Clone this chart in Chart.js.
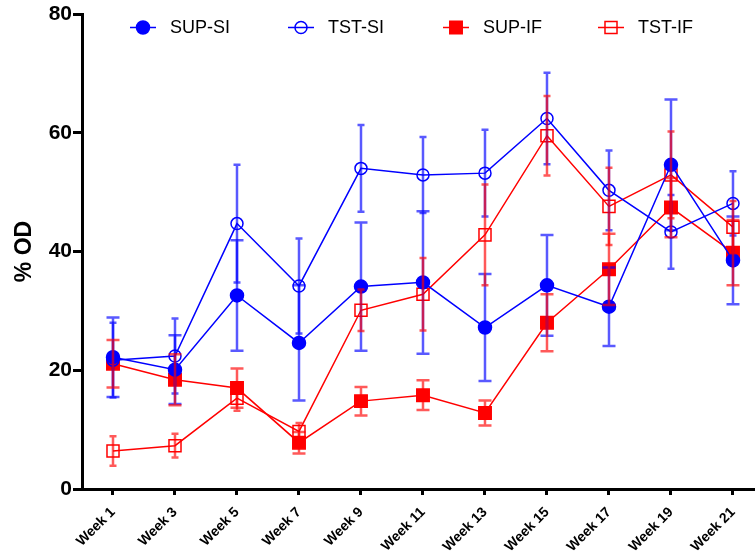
<!DOCTYPE html>
<html>
<head>
<meta charset="utf-8">
<script src="https://cdn.jsdelivr.net/npm/chart.js@4.4.1/dist/chart.umd.min.js"></script>
<style>
  html, body { margin: 0; padding: 0; background: #fff; }
  #wrap { width: 755px; height: 555px; }
</style>
</head>
<body>
<div id="wrap"><canvas id="chart"></canvas></div>
<script>
const weeks = ['Week 1', 'Week 3', 'Week 5', 'Week 7', 'Week 9', 'Week 11',
               'Week 13', 'Week 15', 'Week 17', 'Week 19', 'Week 21'];

// mean and error (SD) per week
const supSi    = [22.2, 20.1, 32.6, 24.6, 34.1, 34.8, 27.2, 34.3, 30.7, 54.6, 38.5];
const supSiErr = [6.7, 5.8, 9.3, 9.7, 10.8, 12.0, 9.0, 8.5, 6.6, 11.0, 7.4];
const tstSi    = [21.7, 22.4, 44.7, 34.2, 54.0, 52.9, 53.2, 62.4, 50.3, 43.3, 48.1];
const tstSiErr = [6.3, 6.3, 9.9, 8.0, 7.3, 6.4, 7.3, 7.7, 6.7, 6.2, 5.4];
const supIf    = [21.1, 18.4, 17.0, 7.8, 14.8, 15.8, 12.8, 28.0, 37.0, 47.4, 39.8];
const supIfErr = [4.0, 4.3, 3.3, 1.8, 2.4, 2.5, 2.1, 4.8, 6.0, 5.0, 5.5];
const tstIf    = [6.4, 7.3, 15.3, 9.7, 30.1, 32.8, 42.8, 59.5, 47.6, 52.9, 44.1];
const tstIfErr = [2.5, 2.0, 2.1, 1.4, 3.5, 6.1, 8.5, 6.7, 6.5, 7.3, 4.4];

const yTicks = [0, 20, 40, 60, 80];

const FONT = '"Liberation Sans", Arial, Helvetica, sans-serif';
const BLUE = '#0000ff';
const RED = '#ff0000';

const toPoints = (vals) => vals.map((v, i) => ({ x: i, y: v }));

function series(label, vals, errs, color, style, filled, radius, capWidth) {
    return {
        label,
        data: toPoints(vals),
        errors: errs,
        capWidth,
        borderColor: color,
        borderWidth: 1.5,
        pointStyle: style,
        pointRadius: radius,
        pointBorderWidth: 1.5,
        pointBorderColor: color,
        pointBackgroundColor: filled ? color : 'rgba(0,0,0,0)',
        fill: false,
        tension: 0,
    };
}

// vertical error bars, drawn over the lines with some transparency
const errorBars = {
    id: 'errorBars',
    afterDatasetsDraw(chart) {
        const { ctx, scales: { y } } = chart;
        ctx.save();
        ctx.globalAlpha = 0.65;
        ctx.lineWidth = 2.5;
        chart.data.datasets.forEach((ds, i) => {
            const meta = chart.getDatasetMeta(i);
            ctx.strokeStyle = ds.borderColor;
            meta.data.forEach((pt, j) => {
                const v = ds.data[j].y;
                const e = ds.errors[j];
                const top = y.getPixelForValue(v + e);
                const bot = y.getPixelForValue(v - e);
                const half = ds.capWidth / 2;
                ctx.beginPath();
                ctx.moveTo(pt.x, top);
                ctx.lineTo(pt.x, bot);
                ctx.moveTo(pt.x - half, top);
                ctx.lineTo(pt.x + half, top);
                ctx.moveTo(pt.x - half, bot);
                ctx.lineTo(pt.x + half, bot);
                ctx.stroke();
            });
        });
        ctx.restore();
    },
};

function drawMarker(ctx, ds, x, y) {
    ctx.save();
    ctx.lineWidth = 1.5;
    ctx.strokeStyle = ds.pointBorderColor;
    ctx.fillStyle = ds.pointBackgroundColor;
    ctx.beginPath();
    if (ds.pointStyle === 'circle') {
        ctx.arc(x, y, ds.pointRadius, 0, Math.PI * 2);
    } else {
        const s = ds.pointRadius * Math.SQRT1_2;
        ctx.rect(x - s, y - s, 2 * s, 2 * s);
    }
    ctx.fill();
    ctx.stroke();
    ctx.restore();
}

// Prism-style legend: short line with the marker, then the label
const lineLegend = {
    id: 'lineLegend',
    afterDraw(chart, args, opts) {
        const { ctx } = chart;
        ctx.save();
        ctx.font = '18px ' + FONT;
        ctx.textBaseline = 'middle';
        chart.data.datasets.forEach((ds, i) => {
            const cx = opts.xs[i];
            const cy = opts.y;
            ctx.strokeStyle = ds.borderColor;
            ctx.lineWidth = 1.5;
            ctx.beginPath();
            ctx.moveTo(cx - 13, cy);
            ctx.lineTo(cx + 13, cy);
            ctx.stroke();
            drawMarker(ctx, ds, cx, cy);
            ctx.fillStyle = '#000';
            ctx.fillText(ds.label, cx + 27, cy + 1);
        });
        ctx.restore();
    },
};

new Chart(document.getElementById('chart'), {
    type: 'line',
    data: {
        datasets: [
            series('SUP-SI', supSi, supSiErr, BLUE, 'circle', true, 6.5, 13),
            series('TST-SI', tstSi, tstSiErr, BLUE, 'circle', false, 6, 7),
            series('SUP-IF', supIf, supIfErr, RED, 'rect', true, 8.8, 13),
            series('TST-IF', tstIf, tstIfErr, RED, 'rect', false, 8.5, 7),
        ],
    },
    options: {
        responsive: true,
        maintainAspectRatio: false,
        animation: false,
        layout: { autoPadding: false, padding: { top: 14, left: 0, right: 0, bottom: 0 } },
        plugins: {
            legend: { display: false },
            tooltip: { enabled: false },
            lineLegend: { xs: [143, 301, 456, 611], y: 27.5 },
        },
        scales: {
            x: {
                type: 'linear',
                min: -0.5,
                max: 10.355,
                afterBuildTicks: (s) => { s.ticks = weeks.map((_, i) => ({ value: i })); },
                afterFit: (s) => { s.height = 66; s.paddingLeft = 0; s.paddingRight = 0; },
                border: { display: true, color: '#000', width: 3 },
                grid: {
                    drawOnChartArea: false,
                    drawTicks: true,
                    tickLength: 6,
                    tickWidth: 3,
                    tickColor: '#000',
                },
                ticks: {
                    autoSkip: false,
                    minRotation: 45,
                    maxRotation: 45,
                    padding: 9,
                    color: '#000',
                    font: { family: FONT, size: 14, weight: 'bold' },
                    callback: (v) => weeks[v],
                },
            },
            y: {
                min: 0,
                max: 80,
                afterBuildTicks: (s) => { s.ticks = yTicks.map((v) => ({ value: v })); },
                afterFit: (s) => { s.width = 82; s.paddingTop = 0; s.paddingBottom = 0; },
                border: { display: true, color: '#000', width: 3 },
                grid: {
                    drawOnChartArea: false,
                    drawTicks: true,
                    tickLength: 9,
                    tickWidth: 3,
                    tickColor: '#000',
                },
                ticks: {
                    padding: 1,
                    color: '#000',
                    font: { family: FONT, size: 21, weight: 'bold' },
                },
                title: {
                    display: true,
                    text: '% OD',
                    color: '#000',
                    padding: { top: 11, bottom: 0 },
                    font: { family: FONT, size: 23, weight: 'bold' },
                },
            },
        },
    },
    plugins: [errorBars, lineLegend],
});
</script>
</body>
</html>
